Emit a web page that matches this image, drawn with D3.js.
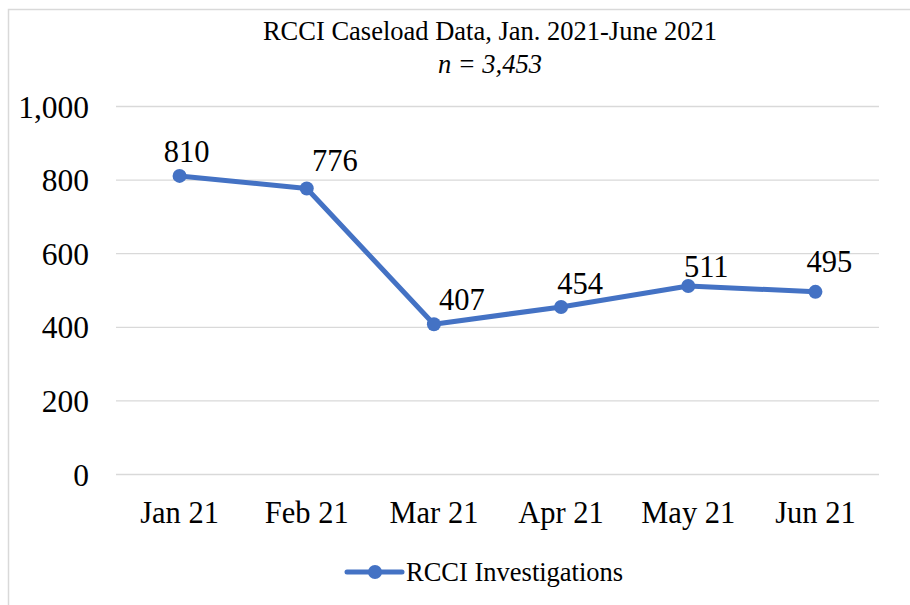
<!DOCTYPE html>
<meta charset="utf-8">
<style>
body { margin: 0; background: #fff; }
svg text { font-family: 'Liberation Serif', 'Times New Roman', serif !important; fill: #000; }
.grid line { stroke: #d9d9d9; stroke-width: 1.3; }
</style>
<body>
<script src="https://cdn.jsdelivr.net/npm/d3@7"></script>
<script>
// chart data
var months = ["Jan 21", "Feb 21", "Mar 21", "Apr 21", "May 21", "Jun 21"];
var investigations = [810, 776, 407, 454, 511, 495];
var yTicks = [0, 200, 400, 600, 800, 1000];
var seriesName = "RCCI Investigations";
var title = "RCCI Caseload Data, Jan. 2021-June 2021";
var subtitle = "n = 3,453";

var W = 910, H = 605;
var plot = {left: 116, right: 879, top: 106, bottom: 474};
var blue = "#4472c4";
var serif = "'Liberation Serif', 'Times New Roman', serif";

var svg = d3.select("body").append("svg")
    .attr("width", W)
    .attr("height", H)
    .style("font-family", serif);

// outer chart border (only top and left are inside the picture)
svg.append("rect")
    .attr("x", 8.5).attr("y", 9.5)
    .attr("width", W + 20).attr("height", H + 20)
    .attr("fill", "none")
    .attr("stroke", "#d9d9d9")
    .attr("stroke-width", 1.5);

var x = d3.scaleBand()
    .domain(months)
    .range([plot.left, plot.right]);
var y = d3.scaleLinear()
    .domain([0, 1000])
    .range([plot.bottom, plot.top]);

// gridlines
svg.append("g")
    .attr("class", "grid")
    .attr("transform", "translate(" + plot.left + ",0)")
    .call(d3.axisLeft(y).tickValues(yTicks).tickSize(-(plot.right - plot.left)).tickFormat(""))
    .call(g => g.select(".domain").remove());

// y axis labels
svg.append("g")
    .attr("transform", "translate(" + (plot.left - 27) + ",0)")
    .call(d3.axisLeft(y).tickValues(yTicks).tickSize(0).tickFormat(d3.format(",")))
    .attr("font-family", serif)
    .attr("font-size", 31.5)
    .call(g => g.select(".domain").remove())
    .selectAll("text")
    .attr("x", 0)
    .attr("dy", "0.35em");

// x axis labels
svg.append("g")
    .attr("transform", "translate(0," + plot.bottom + ")")
    .call(d3.axisBottom(x).tickSize(0))
    .attr("font-family", serif)
    .attr("font-size", 30.5)
    .call(g => g.select(".domain").remove())
    .selectAll("text")
    .attr("y", 49)
    .attr("dy", 0);

var pts = months.map(function(m, i) { return {m: m, v: investigations[i]}; });

var line = d3.line()
    .x(function(d) { return x(d.m) + x.bandwidth() / 2; })
    .y(function(d) { return y(d.v); });

svg.append("path")
    .datum(pts)
    .attr("d", line)
    .attr("fill", "none")
    .attr("stroke", blue)
    .attr("stroke-width", 5)
    .attr("stroke-linejoin", "round")
    .attr("stroke-linecap", "round");

svg.selectAll(".dot")
    .data(pts)
  .enter().append("circle")
    .attr("class", "dot")
    .attr("cx", function(d) { return x(d.m) + x.bandwidth() / 2; })
    .attr("cy", function(d) { return y(d.v); })
    .attr("r", 7)
    .attr("fill", blue);

// data labels (moved by hand in the original)
var nudgeX = [7, 28, 28, 19, 18, 14];
var nudgeY = [-14, -17, -14, -13, -9, -20];
svg.selectAll(".lbl")
    .data(pts)
  .enter().append("text")
    .attr("class", "lbl")
    .attr("x", function(d, i) { return x(d.m) + x.bandwidth() / 2 + nudgeX[i]; })
    .attr("y", function(d, i) { return y(d.v) + nudgeY[i]; })
    .attr("text-anchor", "middle")
    .style("font-size", "30.5px")
    .text(function(d) { return d3.format(",")(d.v); });

// title
svg.append("text")
    .attr("x", 490).attr("y", 40)
    .attr("text-anchor", "middle")
    .style("font-size", "26.5px")
    .text(title);
svg.append("text")
    .attr("x", 490).attr("y", 73)
    .attr("text-anchor", "middle")
    .style("font-size", "26.5px")
    .style("font-style", "italic")
    .text(subtitle);

// legend
var lg = svg.append("g").attr("transform", "translate(347,572)");
lg.append("line")
    .attr("x1", 0).attr("x2", 55)
    .attr("stroke", blue).attr("stroke-width", 5).attr("stroke-linecap", "round");
lg.append("circle")
    .attr("cx", 28).attr("r", 7).attr("fill", blue);
lg.append("text")
    .attr("x", 59).attr("y", 9)
    .style("font-size", "26.5px")
    .text(seriesName);
</script>
</body>
